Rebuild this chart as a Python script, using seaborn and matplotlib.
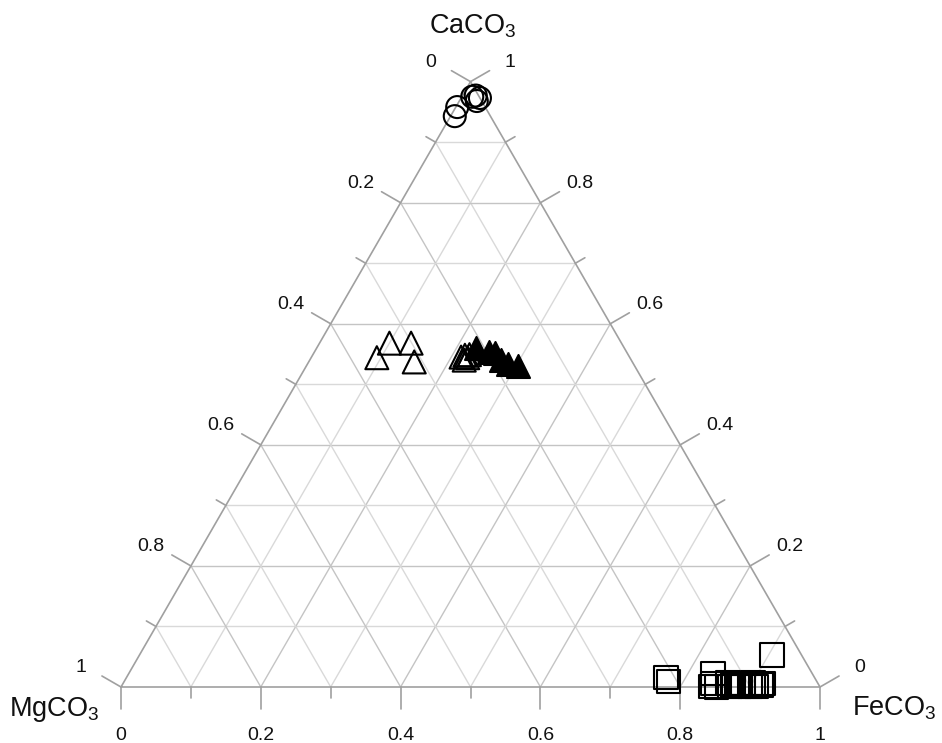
import numpy as np
import pandas as pd
import matplotlib
matplotlib.use("Agg")
import matplotlib.pyplot as plt
import seaborn as sns

# Carbonate compositions as mole fractions (CaCO3, MgCO3, FeCO3)
calcite_ca = [0.958, 0.943, 0.975, 0.968, 0.973, 0.977]
calcite_mg = [0.040, 0.051, 0.010, 0.007, 0.000, 0.004]
calcite_fe = [0.002, 0.006, 0.015, 0.025, 0.027, 0.019]

dolomite_ca = [0.568, 0.568, 0.544, 0.537, 0.545, 0.548, 0.544, 0.540, 0.549]
dolomite_mg = [0.332, 0.301, 0.362, 0.312, 0.241, 0.234, 0.232, 0.239, 0.227]
dolomite_fe = [0.100, 0.131, 0.094, 0.151, 0.214, 0.218, 0.224, 0.221, 0.224]

ankerite_ca = [0.560, 0.553, 0.551, 0.540, 0.534, 0.531]
ankerite_mg = [0.212, 0.197, 0.190, 0.186, 0.180, 0.167]
ankerite_fe = [0.228, 0.250, 0.259, 0.274, 0.286, 0.302]

siderite_ca = [0.053, 0.016, 0.009, 0.022, 0.001, 0.006, 0.000, 0.007, 0.001, 0.003,
               0.006, 0.001, 0.003, 0.006, 0.002, 0.007, 0.001, 0.003, 0.006]
siderite_mg = [0.042, 0.212, 0.212, 0.142, 0.156, 0.150, 0.148, 0.128, 0.128, 0.124,
               0.115, 0.115, 0.112, 0.107, 0.099, 0.092, 0.090, 0.082, 0.078]
siderite_fe = [0.905, 0.772, 0.779, 0.836, 0.843, 0.844, 0.852, 0.865, 0.871, 0.873,
               0.879, 0.884, 0.885, 0.887, 0.899, 0.901, 0.909, 0.915, 0.916]

tick_values = [0.0, 0.1, 0.2, 0.3, 0.4, 0.5, 0.6, 0.7, 0.8, 0.9, 1.0]
tick_labels = ["0", "", "0.2", "", "0.4", "", "0.6", "", "0.8", "", "1"]

H = np.sqrt(3) / 2


def project(ca, mg, fe):
    ca, mg, fe = (np.asarray(v, float) for v in (ca, mg, fe))
    tot = ca + mg + fe
    ca, fe = ca / tot, fe / tot
    return fe + ca / 2, ca * H


sns.set_theme(style="white")
plt.rcParams["font.family"] = ["Liberation Sans", "DejaVu Sans"]
plt.rcParams["mathtext.default"] = "regular"

W, HPX = 942, 743
fig = plt.figure(figsize=(W / 100, HPX / 100), dpi=100)
ax = fig.add_axes([0, 0, 1, 1])

# pixel frame: unit side of the triangle spans 699 px, left corner at (121, 687)
scale, x0, y0 = 699.0, 121.0, 687.0
ax.set_xlim(-x0 / scale, (W - x0) / scale)
ax.set_ylim((y0 - HPX) / scale, y0 / scale)
ax.axis("off")


def px(u, v):
    return (u - x0) / scale, (y0 - v) / scale


# grid lines parallel to each side
for t in tick_values[1:-1]:
    major = abs(round(t * 10) % 2) == 0
    col = "#c4c4c4" if major else "#d9d9d9"
    # constant CaCO3
    ax.plot([t / 2, 1 - t / 2], [t * H, t * H], color=col, lw=1.0, zorder=1)
    # constant FeCO3
    ax.plot([t, t + (1 - t) / 2], [0, (1 - t) * H], color=col, lw=1.0, zorder=1)
    # constant MgCO3
    ax.plot([1 - t, (1 - t) / 2], [0, (1 - t) * H], color=col, lw=1.0, zorder=1)

# triangle outline
ax.plot([0, 1, 0.5, 0], [0, 0, H, 0], color="#a0a0a0", lw=1.2, zorder=2)

# ticks and tick labels on the three sides
major_len, minor_len, lab_off = 22 / scale, 11 / scale, 46 / scale
side_drop, bottom_drop = 4 / scale, 2 / scale
for t, lab in zip(tick_values, tick_labels):
    L = major_len if lab else minor_len
    # bottom: FeCO3
    bx, by = t, 0.0
    ax.plot([bx, bx], [by, by - L], color="#a0a0a0", lw=1.2, zorder=2)
    # right: CaCO3
    rx, ry = 1 - t / 2, t * H
    rd = np.array([np.cos(np.pi / 6), np.sin(np.pi / 6)])
    ax.plot([rx, rx + L * rd[0]], [ry, ry + L * rd[1]], color="#a0a0a0", lw=1.2, zorder=2)
    # left: MgCO3
    lx, ly = (1 - t) / 2, (1 - t) * H
    ld = np.array([-np.cos(np.pi / 6), np.sin(np.pi / 6)])
    ax.plot([lx, lx + L * ld[0]], [ly, ly + L * ld[1]], color="#a0a0a0", lw=1.2, zorder=2)
    if lab:
        kw = dict(ha="center", va="center", fontsize=14, color="#111111")
        ax.text(bx, by - lab_off - bottom_drop, lab, **kw)
        ax.text(rx + lab_off * rd[0], ry + lab_off * rd[1] - side_drop, lab, **kw)
        ax.text(lx + lab_off * ld[0], ly + lab_off * ld[1] - side_drop, lab, **kw)

# apex labels
ax.text(*px(429, 34), "CaCO$_3$", ha="left", va="baseline", fontsize=19.5, color="#111111")
ax.text(*px(9, 716), "MgCO$_3$", ha="left", va="baseline", fontsize=19.5, color="#111111")
ax.text(*px(852, 716), "FeCO$_3$", ha="left", va="baseline", fontsize=19.5, color="#111111")

groups = [
    ("calcite", calcite_ca, calcite_mg, calcite_fe),
    ("dolomite", dolomite_ca, dolomite_mg, dolomite_fe),
    ("ankerite", ankerite_ca, ankerite_mg, ankerite_fe),
    ("siderite", siderite_ca, siderite_mg, siderite_fe),
]
frames = []
for name, ca, mg, fe in groups:
    x, y = project(ca, mg, fe)
    frames.append(pd.DataFrame({"x": x, "y": y, "group": name}))
df = pd.concat(frames, ignore_index=True)

styles = {
    "calcite": dict(marker="o", s=(22 * 0.72) ** 2, facecolor="none"),
    "dolomite": dict(marker="^", s=(23 * 0.72) ** 2, facecolor="none"),
    "ankerite": dict(marker="^", s=(23 * 0.72) ** 2, facecolor="black"),
    "siderite": dict(marker="s", s=(23.5 * 0.72) ** 2, facecolor="none"),
}
for name, st in styles.items():
    sub = df[df["group"] == name]
    sns.scatterplot(data=sub, x="x", y="y", ax=ax, marker=st["marker"], s=st["s"],
                    facecolor=st["facecolor"], edgecolor="black", linewidth=1.5,
                    zorder=3, legend=False)

ax.set_xlim(-x0 / scale, (W - x0) / scale)
ax.set_ylim((y0 - HPX) / scale, y0 / scale)
ax.axis("off")
fig.savefig("out.png", dpi=100, facecolor="white")
